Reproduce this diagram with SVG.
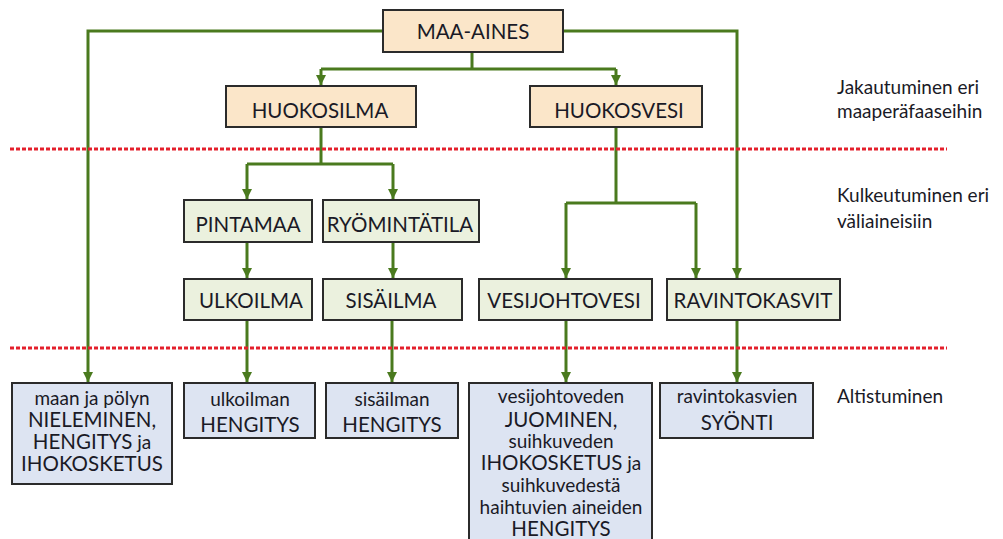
<svg xmlns="http://www.w3.org/2000/svg" width="1003" height="539" viewBox="0 0 1003 539">
<defs>
<marker id="arr" markerUnits="userSpaceOnUse" markerWidth="10" markerHeight="10" viewBox="0 0 9 9" refX="9" refY="4.5" orient="auto">
<path d="M0,0 L9,4.5 L0,9 Z" fill="#4a7a1e"/>
</marker>
<style>
.box{stroke:#2b2b2b;stroke-width:2}
.top{fill:#fbe6c9}
.mid{fill:#ebf1de}
.bot{fill:#dde4f2}
text{font-family:Lato,"Open Sans","Liberation Sans",sans-serif;fill:#1a1a26;text-anchor:middle}
.big{font-size:20.5px}
.up{font-size:20.5px}
.lo{font-size:19px}
.side{font-size:19px;text-anchor:start}
.con{fill:none;stroke:#4a7a1e;stroke-width:3}
.red{stroke:#e4202c;stroke-width:3;stroke-dasharray:4 2}
</style>
</defs>
<g id="connectors">
<path class="con" d="M383,31 H88 V382" marker-end="url(#arr)"/>
<path class="con" d="M563,31 H737 V278" marker-end="url(#arr)"/>
<path class="con" d="M472,52 V69 M321,69 H616"/>
<path class="con" d="M321,69 V85" marker-end="url(#arr)"/>
<path class="con" d="M616,69 V85" marker-end="url(#arr)"/>
<path class="con" d="M321,127 V164 M247,164 H393"/>
<path class="con" d="M247,164 V199" marker-end="url(#arr)"/>
<path class="con" d="M393,164 V199" marker-end="url(#arr)"/>
<path class="con" d="M247,242 V278" marker-end="url(#arr)"/>
<path class="con" d="M393,242 V278" marker-end="url(#arr)"/>
<path class="con" d="M616,127 V203 M566,203 H696"/>
<path class="con" d="M566,203 V278" marker-end="url(#arr)"/>
<path class="con" d="M696,203 V278" marker-end="url(#arr)"/>
<path class="con" d="M247,320 V382" marker-end="url(#arr)"/>
<path class="con" d="M392,320 V382" marker-end="url(#arr)"/>
<path class="con" d="M566,320 V382" marker-end="url(#arr)"/>
<path class="con" d="M737,320 V382" marker-end="url(#arr)"/>
</g>
<g id="dividers">
<line class="red" x1="10" y1="149" x2="947" y2="149"/>
<line class="red" x1="10" y1="348" x2="947" y2="348"/>
</g>
<g id="maa-aines"><rect class="box top" x="383" y="10" width="180" height="42"/><text class="big" x="473" y="39">MAA-AINES</text></g>
<g id="huokosilma"><rect class="box top" x="226" y="86" width="190" height="41"/><text class="big" x="320" y="118">HUOKOSILMA</text></g>
<g id="huokosvesi"><rect class="box top" x="530" y="86" width="172" height="41"/><text class="big" x="619" y="118">HUOKOSVESI</text></g>
<g id="pintamaa"><rect class="box mid" x="184" y="200" width="128" height="42"/><text class="big" x="248" y="232">PINTAMAA</text></g>
<g id="ryomintatila"><rect class="box mid" x="323" y="200" width="156" height="42"/><text class="big" x="400" y="232">RYÖMINTÄTILA</text></g>
<g id="ulkoilma"><rect class="box mid" x="184" y="279" width="128" height="41"/><text class="big" x="251" y="308">ULKOILMA</text></g>
<g id="sisailma"><rect class="box mid" x="323" y="279" width="139" height="41"/><text class="big" x="391" y="308">SISÄILMA</text></g>
<g id="vesijohtovesi"><rect class="box mid" x="479" y="279" width="173" height="41"/><text class="big" x="564" y="308">VESIJOHTOVESI</text></g>
<g id="ravintokasvit"><rect class="box mid" x="667" y="279" width="173" height="41"/><text class="big" x="753" y="308">RAVINTOKASVIT</text></g>
<g id="maan-polyn"><rect class="box bot" x="12" y="383" width="160" height="101"/>
<text class="lo" x="92" y="405">maan ja pölyn</text>
<text class="up" x="92" y="427">NIELEMINEN,</text>
<text x="92" y="449"><tspan class="up">HENGITYS</tspan><tspan class="lo"> ja</tspan></text>
<text class="up" x="92" y="471">IHOKOSKETUS</text></g>
<g id="ulkoilman"><rect class="box bot" x="184" y="383" width="131" height="55"/>
<text class="lo" x="250" y="406">ulkoilman</text>
<text class="up" x="250" y="432">HENGITYS</text></g>
<g id="sisailman"><rect class="box bot" x="326" y="383" width="132" height="55"/>
<text class="lo" x="392" y="406">sisäilman</text>
<text class="up" x="392" y="432">HENGITYS</text></g>
<g id="vesijohtoveden"><rect class="box bot" x="469" y="383" width="183" height="170"/>
<text class="lo" x="561" y="403">vesijohtoveden</text>
<text class="up" x="561" y="427">JUOMINEN,</text>
<text class="lo" x="561" y="448">suihkuveden</text>
<text x="561" y="470"><tspan class="up">IHOKOSKETUS</tspan><tspan class="lo"> ja</tspan></text>
<text class="lo" x="561" y="492">suihkuvedestä</text>
<text class="lo" x="561" y="514">haihtuvien aineiden</text>
<text class="up" x="561" y="536">HENGITYS</text></g>
<g id="ravintokasvien"><rect class="box bot" x="660" y="383" width="153" height="55"/>
<text class="lo" x="737" y="403">ravintokasvien</text>
<text class="up" x="737" y="430">SYÖNTI</text></g>
<g id="labels">
<text class="side" x="837" y="94">Jakautuminen eri</text>
<text class="side" x="837" y="118">maaperäfaaseihin</text>
<text class="side" x="837" y="202">Kulkeutuminen eri</text>
<text class="side" x="837" y="228">väliaineisiin</text>
<text class="side" x="837" y="403">Altistuminen</text>
</g>
</svg>
